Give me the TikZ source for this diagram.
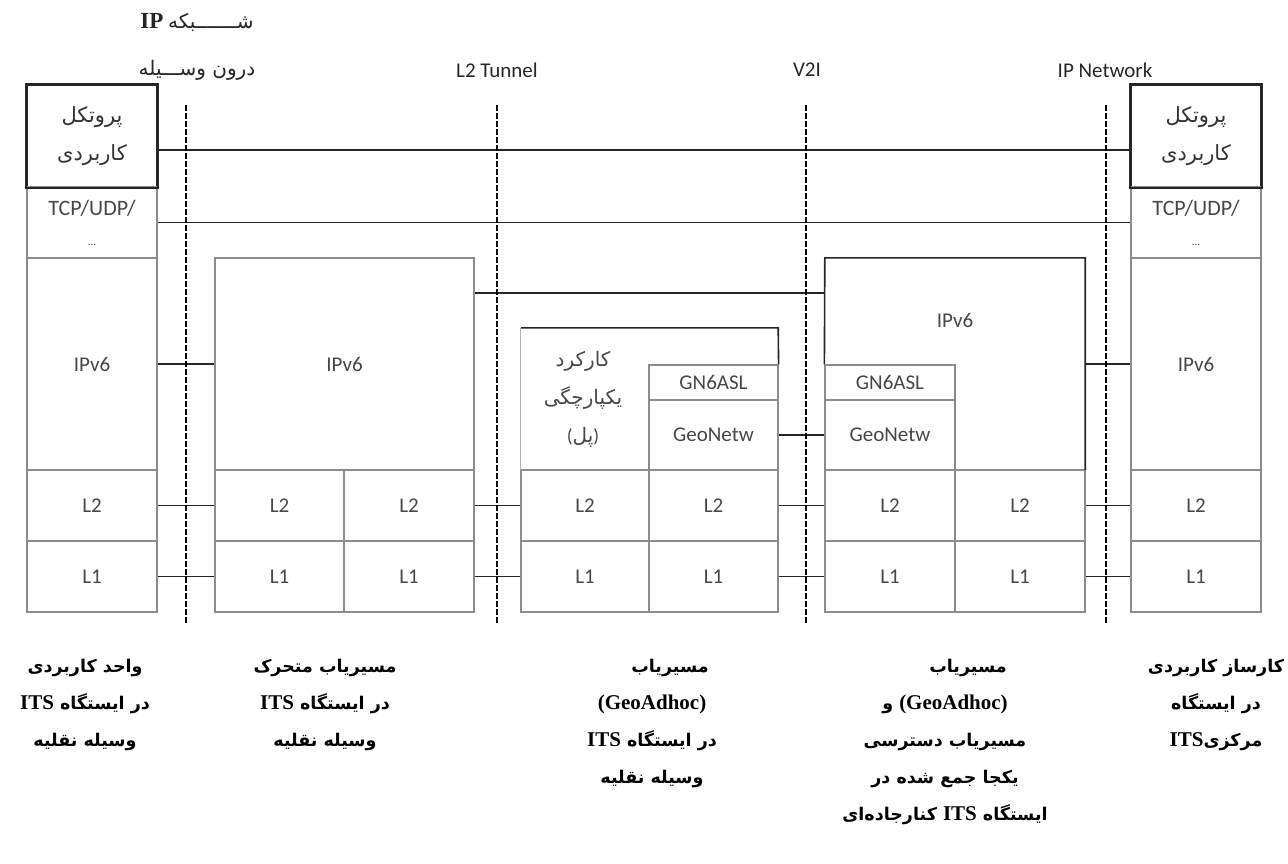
\documentclass[tikz,border=0pt]{standalone}
\usepackage{fontspec}
\setmainfont{Carlito}
\newfontfamily\arfont[Script=Arabic]{DejaVu Sans}
\newfontfamily\serfont{Liberation Serif}
\TeXXeTstate=1
\newcommand{\fatx}[1]{{\arfont\beginR #1\endR}}
\newcommand{\itsw}{{\serfont\fontsize{21}{37}\selectfont ITS}}
\begin{document}
\begin{tikzpicture}[x=1pt,y=-1pt,
  cell/.style={draw=black!45, line width=1.2pt, inner sep=0pt, text=black!72,
    font=\fontsize{21}{24}\selectfont, align=center},
  ghost/.style={draw=none, inner sep=0pt, text=black!72, align=center},
  darkl/.style={draw=black!85, line width=1.6pt},
  conn/.style={draw=black!85, line width=1.5pt},
  dashl/.style={draw=black, line width=2.4pt, dash pattern=on 6pt off 2pt},
  hdr/.style={inner sep=0pt, text=black!85, font=\fontsize{21}{24}\selectfont},
  appcell/.style={cell, minimum width=130pt, minimum height=102pt, draw=black!85, line width=1.6pt,
    font=\arfont\fontsize{21}{38}\selectfont, text=black!80},
  tcpcell/.style={cell, minimum width=130pt, minimum height=71pt, font=\fontsize{22}{30}\selectfont},
  btm/.style={inner sep=0pt, align=center, text=black, font=\arfont\bfseries\fontsize{17.5}{37}\selectfont}
]
\useasboundingbox (0,0) rectangle (1288,863);

% ---------------- left stack
\node[appcell] (lapp) at (92,136) {\fatx{پروتکل}\\\fatx{کاربردی}};
\node[tcpcell] (ltcp) at (92,222.5) {TCP/UDP/\\{\fontsize{11}{11}\selectfont ...}};
\node[cell, minimum width=130pt, minimum height=212pt] (lip) at (92,364) {IPv6};
\node[cell, minimum width=130pt, minimum height=71pt] (ll2) at (92,505.5) {L2};
\node[cell, minimum width=130pt, minimum height=71pt] (ll1) at (92,576.5) {L1};
\draw[darkl] (lapp.north west) rectangle (lapp.south east);

% ---------------- right stack
\node[appcell] (rapp) at (1196,136) {\fatx{پروتکل}\\\fatx{کاربردی}};
\node[tcpcell] (rtcp) at (1196,222.5) {TCP/UDP/\\{\fontsize{11}{11}\selectfont ...}};
\node[cell, minimum width=130pt, minimum height=212pt] (rip) at (1196,364) {IPv6};
\node[cell, minimum width=130pt, minimum height=71pt] (rl2) at (1196,505.5) {L2};
\node[cell, minimum width=130pt, minimum height=71pt] (rl1) at (1196,576.5) {L1};
\draw[darkl] (rapp.north west) rectangle (rapp.south east);

% ---------------- box 2 (mobile router)
\node[cell, minimum width=259pt, minimum height=212pt] (ip2) at (344.5,364) {IPv6};
\node[cell, minimum width=129pt, minimum height=71pt] (a2l2) at (279.5,505.5) {L2};
\node[cell, minimum width=130pt, minimum height=71pt] (b2l2) at (409,505.5) {L2};
\node[cell, minimum width=129pt, minimum height=71pt] (a2l1) at (279.5,576.5) {L1};
\node[cell, minimum width=130pt, minimum height=71pt] (b2l1) at (409,576.5) {L1};

% ---------------- box 3 (GeoAdhoc router in vehicle)
\node[ghost, minimum width=257pt, minimum height=142pt] (top3) at (649.5,399) {};
\node[ghost, font=\arfont\fontsize{20}{38}\selectfont] (br3) at (583,399) {\fatx{کارکرد}\\\fatx{یکپارچگی}\\{\rmfamily\fontsize{19}{38}\selectfont(}\fatx{پل}{\rmfamily\fontsize{19}{38}\selectfont)}};
\node[cell, minimum width=129pt, minimum height=35pt] (gn3) at (713.5,382.5) {GN6ASL};
\node[cell, minimum width=129pt, minimum height=70pt] (geo3) at (713.5,435) {GeoNetw};
\node[cell, minimum width=128pt, minimum height=71pt] (a3l2) at (585,505.5) {L2};
\node[cell, minimum width=129pt, minimum height=71pt] (b3l2) at (713.5,505.5) {L2};
\node[cell, minimum width=128pt, minimum height=71pt] (a3l1) at (585,576.5) {L1};
\node[cell, minimum width=129pt, minimum height=71pt] (b3l1) at (713.5,576.5) {L1};
\draw[draw=blue!35!black!30, line width=1.1pt] (top3.south west) -- (top3.north west);
\draw[darkl] (top3.north west) -- (top3.north east) -- (gn3.north east);

% ---------------- box 4 (roadside router)
\node[ghost, minimum width=260pt, minimum height=212pt] (ip4) at (955,364) {};
\node[ghost, font=\fontsize{21}{24}\selectfont] (ip4t) at (955,320) {IPv6};
\node[cell, minimum width=130pt, minimum height=35pt] (gn4) at (890,382.5) {GN6ASL};
\node[cell, minimum width=130pt, minimum height=70pt] (geo4) at (890,435) {GeoNetw};
\node[cell, minimum width=130pt, minimum height=71pt] (a4l2) at (890,505.5) {L2};
\node[cell, minimum width=130pt, minimum height=71pt] (b4l2) at (1020,505.5) {L2};
\node[cell, minimum width=130pt, minimum height=71pt] (a4l1) at (890,576.5) {L1};
\node[cell, minimum width=130pt, minimum height=71pt] (b4l1) at (1020,576.5) {L1};
\draw[darkl] (gn4.north west) -- (ip4.north west) -- (ip4.north east) -- (ip4.south east);

% ---------------- dashed boundaries
\coordinate (d1a) at (186,105); \coordinate (d1b) at (186,623);
\coordinate (d2a) at (497,105); \coordinate (d2b) at (497,623);
\coordinate (d3a) at (806,105); \coordinate (d3b) at (806,623);
\coordinate (d4a) at (1106,105); \coordinate (d4b) at (1106,623);

% ---------------- connectors
\draw[conn] ([yshift=-14pt]lapp.east) -- ([yshift=-14pt]lapp.east -| rapp.west);
\draw[conn] (ltcp.east) -- (rtcp.west);
\draw[conn] (lip.east) -- (ip2.west);
\draw[conn] ([yshift=71pt]ip2.east) -- ([yshift=71pt]ip4.west);
\draw[conn] (ip4.east) -- (rip.west);
\draw[conn] (geo3.east) -- (geo4.west);
\draw[conn] (ll2.east) -- (a2l2.west);
\draw[conn] (b2l2.east) -- (a3l2.west);
\draw[conn] (b3l2.east) -- (a4l2.west);
\draw[conn] (b4l2.east) -- (rl2.west);
\draw[conn] (ll1.east) -- (a2l1.west);
\draw[conn] (b2l1.east) -- (a3l1.west);
\draw[conn] (b3l1.east) -- (a4l1.west);
\draw[conn] (b4l1.east) -- (rl1.west);

\draw[dashl] (d1a) -- (d1b);
\draw[dashl] (d2a) -- (d2b);
\draw[dashl] (d3a) -- (d3b);
\draw[dashl] (d4a) -- (d4b);

% ---------------- header labels
\node[hdr] (h1a) at (197,22) {{\serfont\bfseries\fontsize{23}{24}\selectfont IP}\ \fatx{\fontsize{20}{24}\selectfont شـــــــبکه}};
\node[hdr] (h1b) at (197,70) {\fatx{\fontsize{20}{24}\selectfont درون وســـیله}};
\node[hdr] (h2) at (497,70) {L2 Tunnel};
\node[hdr] (h3) at (807,70) {V2I};
\node[hdr] (h4) at (1105,70) {IP Network};

% ---------------- bottom labels
\node[btm, anchor=north] (c1) at (85,659) {\fatx{واحد کاربردی}\\\itsw\ \fatx{در ایستگاه}\\\fatx{وسیله نقلیه}};
\node[btm, anchor=north] (c2) at (325,659) {\fatx{مسیریاب متحرک}\\\itsw\ \fatx{در ایستگاه}\\\fatx{وسیله نقلیه}};
\node[btm, anchor=north] (c3) at (652,659) {\hspace*{36pt}\fatx{مسیریاب}\\{\serfont\fontsize{21}{37}\selectfont (GeoAdhoc)}\\\itsw\ \fatx{در ایستگاه}\\\fatx{وسیله نقلیه}};
\node[btm, anchor=north] (c4) at (945,659) {\hspace*{46pt}\fatx{مسیریاب}\\\fatx{و}\ {\serfont\fontsize{21}{37}\selectfont (GeoAdhoc)}\\\fatx{مسیریاب دسترسی}\\\fatx{یکجا جمع شده در}\\\fatx{کنارجاده‌ای}\ \itsw\ \fatx{ایستگاه}};
\node[btm, anchor=north] (c5) at (1216,659) {\fatx{کارساز کاربردی}\\\fatx{در ایستگاه}\\\itsw\fatx{مرکزی}};
\end{tikzpicture}
\end{document}
